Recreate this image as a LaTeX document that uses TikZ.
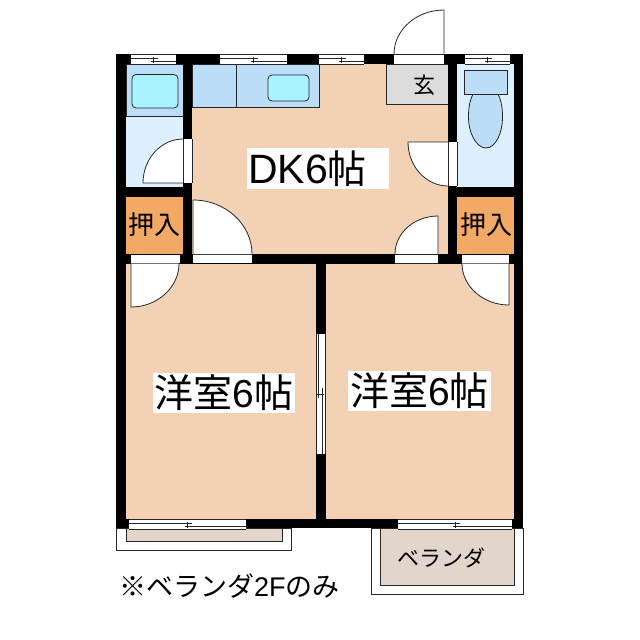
\documentclass[tikz,border=0pt]{standalone}
\usepackage{fontspec}
\setmainfont{Liberation Sans}
\newfontfamily\cjk{Noto Sans CJK JP}
\usetikzlibrary{calc}
\definecolor{roomc}{HTML}{F2D1B5}
\definecolor{bathc}{HTML}{DDF0FF}
\definecolor{unitc}{HTML}{BBDDF8}
\definecolor{tubc}{HTML}{A8F2FF}
\definecolor{closetc}{HTML}{F2A966}
\definecolor{entryc}{HTML}{DCDCDC}
\definecolor{verc}{HTML}{E2D6CC}
\tikzset{
  wall/.style={fill=black,draw=none},
  thin line/.style={draw=black!85,line width=0.8pt},
  roomlabel/.style={fill=white,inner sep=0pt,text=black,anchor=center},
  smalllabel/.style={inner sep=0pt,text=black,anchor=center},
}
\newcommand{\qdoor}[6]{%
  \fill[white] (#1,#2) -- (#3,#4) .. controls ($(#3,#4)+.55*(#5,#6)-.55*(#1,#2)$) and ($(#5,#6)+.55*(#3,#4)-.55*(#1,#2)$) .. (#5,#6) -- cycle;
  \draw[thin line] (#1,#2) -- (#3,#4) .. controls ($(#3,#4)+.55*(#5,#6)-.55*(#1,#2)$) and ($(#5,#6)+.55*(#3,#4)-.55*(#1,#2)$) .. (#5,#6);
}
\newcommand{\hwin}[4]{% x1 x2 ytop cx
  \pgfmathsetmacro{\ybot}{#3+9.5}
  \pgfmathsetmacro{\ya}{#3+4}
  \pgfmathsetmacro{\yb}{#3+6.5}
  \pgfmathsetmacro{\yc}{#3+2}
  \pgfmathsetmacro{\yd}{#3+8}
  \fill[white] (#1,#3) rectangle (#2,\ybot);
  \draw[thin line,line width=.6pt] (#1,#3) -- (#2,#3) (#1,\ybot) -- (#2,\ybot);
  \draw[thin line,line width=.7pt] (#1,\ya) -- ({#4+5},\ya) ({#4-2},\yb) -- (#2,\yb) (#4,\yc) -- (#4,\yd);
}
\newcommand{\jp}[1]{{\cjk #1}}
\begin{document}
\begin{tikzpicture}[x=1pt,y=-1pt]
\useasboundingbox (0,0) rectangle (640,640);
\fill[white] (0,0) rectangle (640,640);
% floors
\fill[roomc] (126,64) rectangle (514,519);
\fill[bathc] (126,64) rectangle (183,187);
\fill[bathc] (457,64) rectangle (514,187);
% verandas
\draw[thin line,fill=white] (116,528) rectangle (291,550);
\draw[thin line,fill=verc] (126,528) rectangle (282,541);
\draw[thin line,fill=white] (371,528) rectangle (523,594);
\draw[thin line,fill=verc] (380,528) rectangle (514,585);
% fixtures
\draw[thin line,fill=unitc,line width=.6pt] (126,64) rectangle (183,116);
\draw[thin line,fill=tubc,rounded corners=4pt] (132,74.5) rectangle (178,108);
\draw[thin line,fill=unitc] (192,64) rectangle (319,107.5);
\draw[thin line] (236,64) -- (236,107.5);
\draw[thin line,fill=tubc,rounded corners=4pt] (268,75) rectangle (309,101);
\draw[thin line,fill=entryc] (448,104) -- (386,104) -- (386,64) -- (448,64);
\draw[thin line,fill=unitc] (473,94) .. controls (469,102) and (468.5,110) .. (468.5,118) .. controls (468.5,132) and (476,148) .. (486,148) .. controls (496,148) and (502.5,132) .. (502.5,118) .. controls (502.5,110) and (502,102) .. (498,94) -- cycle;
\draw[thin line,fill=unitc] (464.5,70.5) rectangle (507,94);
\fill[closetc] (126,197) rectangle (183,254);
\fill[closetc] (457,197) rectangle (514,254);
% walls
\fill[wall] (116,54) rectangle (523,64);
\fill[wall] (116,54) rectangle (126,528);
\fill[wall] (514,54) rectangle (523,528);
\fill[wall] (116,519) rectangle (523,528);
\fill[wall] (183,54) rectangle (192,264);
\fill[wall] (448,54) rectangle (457,264);
\fill[wall] (126,187) rectangle (183,197);
\fill[wall] (457,187) rectangle (514,197);
\fill[wall] (126,254) rectangle (514,264);
\fill[wall] (316,254) rectangle (326,519);
% top door
\fill[white] (394,54.5) rectangle (444,64);
\qdoor{444}{54}{444}{10}{394}{54}
% openings
\fill[white] (183.5,139) rectangle (192,183);
\fill[white] (448,142) rectangle (457,186);
\fill[white] (193,254.5) rectangle (252,263);
\fill[white] (395,254.5) rectangle (438,263);
\fill[white] (131,254.5) rectangle (179.5,263);
\fill[white] (462,254.5) rectangle (509,263);
\draw[thin line] (193,254.5) -- (252,254.5);
\draw[thin line,line width=.6pt] (395,263) -- (438,263) (131,263) -- (179.5,263) (462,263) -- (509,263);
\qdoor{183}{183}{143}{183}{183}{139}
\qdoor{448}{142}{408}{142}{448}{186}
\qdoor{193}{254}{193}{200}{252}{254}
\qdoor{438}{254}{438}{216}{395}{254}
\qdoor{131}{263.5}{131}{307}{179}{263.5}
\qdoor{509}{263.5}{509}{305}{462}{263.5}
\draw[thin line,line width=.6pt] (183.3,139) -- (183.3,183) (192,139) -- (192,183);
\draw[thin line,line width=.6pt] (448,142) -- (448,186) (457,142) -- (457,186);
% windows
\hwin{130.5}{176}{54.5}{153}
\hwin{220}{287}{54.5}{253}
\hwin{319}{364}{54.5}{341}
\hwin{465}{509.5}{54.5}{487}
\hwin{129}{246}{519.5}{187}
\hwin{398}{512}{519.5}{455}
% sliding door
\fill[white] (316,334) rectangle (325,454);
\draw[thin line,line width=.7pt] (316,334) -- (316,454) (325,334) -- (325,454) (318.5,334) -- (318.5,398) (322,388) -- (322,454) (316,394) -- (324,394) ;
% labels
\node[roomlabel,minimum width=142pt,minimum height=41pt] (dk) at (318,168.5) {\fontsize{41}{42}\selectfont DK6\fontsize{39}{42}\selectfont\jp{帖}\hspace*{21pt}};
\node[roomlabel,minimum width=142pt,minimum height=40pt] (r1) at (224,392.5) {\fontsize{39}{42}\selectfont\jp{洋室}6\jp{帖}};
\node[roomlabel,minimum width=143pt,minimum height=40pt] (r2) at (419.5,391) {\fontsize{39}{42}\selectfont\jp{洋室}6\jp{帖}};
\node[smalllabel] (c1) at (154.5,225) {\fontsize{26}{28}\selectfont\jp{押入}};
\node[smalllabel] (c2) at (486,225) {\fontsize{26}{28}\selectfont\jp{押入}};
\node[smalllabel] (en) at (424,85) {\fontsize{22}{24}\selectfont\jp{玄}};
\node[smalllabel] (ve) at (441,558) {\fontsize{22}{24}\selectfont\jp{ベランダ}};
\node[smalllabel,anchor=west] (no) at (119,586) {\fontsize{27}{29}\selectfont\jp{※ベランダ}2F\jp{のみ}};
\end{tikzpicture}
\end{document}
